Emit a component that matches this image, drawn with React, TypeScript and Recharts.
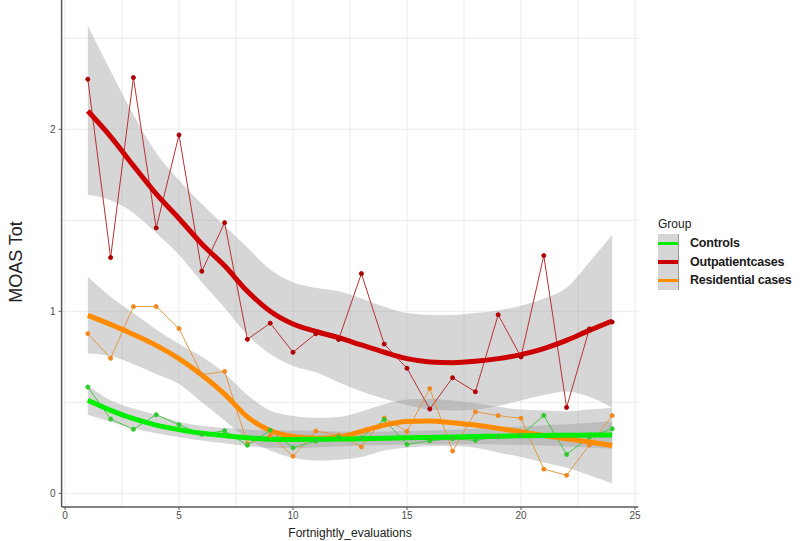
import { ComposedChart, Area, Line, XAxis, YAxis, CartesianGrid } from "recharts";

// fortnightly evaluation index
const evaluations = [1, 2, 3, 4, 5, 6, 7, 8, 9, 10, 11, 12, 13, 14, 15, 16, 17, 18, 19, 20, 21, 22, 23, 24];

// observed MOAS totals per group
const controls = [0.584, 0.408, 0.352, 0.432, 0.377, 0.324, 0.344, 0.264, 0.346, 0.25, 0.287, 0.31, 0.305, 0.405, 0.269, 0.289, 0.3, 0.291, 0.31, 0.32, 0.428, 0.214, 0.309, 0.355];
const outpatient = [2.275, 1.295, 2.284, 1.458, 1.969, 1.22, 1.487, 0.846, 0.935, 0.775, 0.877, 0.845, 1.207, 0.82, 0.687, 0.463, 0.635, 0.558, 0.981, 0.749, 1.306, 0.472, 0.903, 0.941];
const residential = [0.877, 0.742, 1.026, 1.026, 0.905, 0.652, 0.67, 0.273, 0.318, 0.204, 0.342, 0.32, 0.255, 0.414, 0.34, 0.576, 0.232, 0.448, 0.427, 0.412, 0.133, 0.099, 0.265, 0.427];

// smoothed fits
const controlsFit = [0.511, 0.456, 0.41, 0.375, 0.35, 0.33, 0.318, 0.305, 0.297, 0.296, 0.297, 0.298, 0.3, 0.302, 0.305, 0.307, 0.31, 0.312, 0.314, 0.316, 0.318, 0.319, 0.32, 0.32];
const outpatientFit = [2.1, 1.96, 1.8, 1.645, 1.51, 1.37, 1.25, 1.11, 1.0, 0.93, 0.89, 0.855, 0.815, 0.775, 0.74, 0.722, 0.718, 0.725, 0.74, 0.762, 0.795, 0.84, 0.895, 0.947];
const residentialFit = [0.978, 0.928, 0.873, 0.813, 0.74, 0.65, 0.545, 0.42, 0.345, 0.312, 0.302, 0.31, 0.34, 0.375, 0.395, 0.397, 0.388, 0.375, 0.357, 0.338, 0.318, 0.3, 0.282, 0.263];

// confidence bands
const controlsLow = [0.43, 0.393, 0.356, 0.33, 0.31, 0.29, 0.275, 0.26, 0.25, 0.248, 0.252, 0.258, 0.262, 0.265, 0.268, 0.27, 0.27, 0.27, 0.268, 0.265, 0.262, 0.258, 0.252, 0.245];
const controlsHigh = [0.594, 0.511, 0.466, 0.43, 0.393, 0.37, 0.36, 0.35, 0.345, 0.345, 0.343, 0.34, 0.338, 0.34, 0.342, 0.345, 0.35, 0.355, 0.36, 0.367, 0.374, 0.38, 0.388, 0.395];
const outpatientLow = [1.64, 1.61, 1.54, 1.43, 1.31, 1.16, 1.02, 0.87, 0.765, 0.7, 0.665, 0.61, 0.56, 0.52, 0.485, 0.46, 0.455, 0.46, 0.48, 0.51, 0.54, 0.56, 0.53, 0.47];
const outpatientHigh = [2.57, 2.32, 2.08, 1.87, 1.72, 1.59, 1.47, 1.35, 1.23, 1.16, 1.13, 1.11, 1.07, 1.025, 0.99, 0.98, 0.98, 0.99, 1.005, 1.03, 1.07, 1.13, 1.27, 1.42];
const residentialLow = [0.768, 0.755, 0.71, 0.655, 0.6, 0.5, 0.4, 0.3, 0.235, 0.195, 0.18, 0.185, 0.2, 0.235, 0.25, 0.26, 0.26, 0.25, 0.225, 0.2, 0.17, 0.14, 0.1, 0.055];
const residentialHigh = [1.19, 1.08, 0.99, 0.9, 0.82, 0.75, 0.66, 0.54, 0.455, 0.425, 0.415, 0.42, 0.45, 0.49, 0.515, 0.52, 0.51, 0.495, 0.475, 0.46, 0.455, 0.45, 0.46, 0.47];

const xTicks = [0, 5, 10, 15, 20, 25];
const yTicks = [0, 1, 2];

const groups = [
  { name: "Controls", color: "#00ee00" },
  { name: "Outpatientcases", color: "#cc0000" },
  { name: "Residential cases", color: "#ff8c00" },
];

const data = evaluations.map((x, i) => ({
  x,
  controls: controls[i],
  outpatient: outpatient[i],
  residential: residential[i],
  controlsFit: controlsFit[i],
  outpatientFit: outpatientFit[i],
  residentialFit: residentialFit[i],
  controlsBand: [controlsLow[i], controlsHigh[i]],
  outpatientBand: [outpatientLow[i], outpatientHigh[i]],
  residentialBand: [residentialLow[i], residentialHigh[i]],
}));

const font = "'Liberation Sans', Arial, sans-serif";
const axisColor = "#595959";
const tickStyle = { fill: "#4d4d4d", fontSize: 10 };

function Legend() {
  return (
    <div style={{ position: "absolute", left: 658, top: 217, fontFamily: font, color: "#1a1a1a" }}>
      <div style={{ fontSize: 12, marginBottom: 3 }}>Group</div>
      {groups.map((g) => (
        <div key={g.name} style={{ display: "flex", alignItems: "center", height: 18.5 }}>
          <div style={{ width: 20, height: 18.5, background: "#d6d6d6", borderRight: "1px solid #9a9a9a", position: "relative" }}>
            <div style={{ position: "absolute", left: 0, right: 0, top: 7.5, height: 3.5, background: g.color }} />
          </div>
          <span style={{ marginLeft: 11, fontSize: 12.5, fontWeight: "bold", letterSpacing: -0.2 }}>{g.name}</span>
        </div>
      ))}
    </div>
  );
}

export default function App() {
  return (
    <div style={{ position: "absolute", left: 0, top: 0, width: 800, height: 541, background: "#fff" }}>
      <ComposedChart
        width={800}
        height={541}
        data={data}
        margin={{ top: 0, right: 161.6, bottom: 0, left: 0 }}
        style={{ fontFamily: font }}
      >
        <CartesianGrid
          stroke="#ebebeb"
          verticalValues={[0, 2.5, 5, 7.5, 10, 12.5, 15, 17.5, 20, 22.5, 25]}
          horizontalValues={[0, 0.5, 1, 1.5, 2, 2.5]}
        />
        <XAxis
          type="number"
          dataKey="x"
          domain={[-0.15, 25.15]}
          ticks={xTicks}
          allowDataOverflow
          height={34}
          tickSize={3}
          tickMargin={2}
          tick={tickStyle}
          axisLine={{ stroke: axisColor, strokeWidth: 1.5 }}
          tickLine={{ stroke: axisColor }}
          label={{
            content: () => (
              <text x={350} y={533} textAnchor="middle" dominantBaseline="central" fill="#222" fontSize={12}>
                Fortnightly_evaluations
              </text>
            ),
          }}
        />
        <YAxis
          type="number"
          domain={[-0.075, 2.71]}
          ticks={yTicks}
          allowDataOverflow
          width={61.6}
          tickSize={3}
          tickMargin={3}
          tick={tickStyle}
          axisLine={{ stroke: axisColor, strokeWidth: 1.5 }}
          tickLine={{ stroke: axisColor }}
          label={{
            content: () => (
              <text
                x={16}
                y={262}
                transform="rotate(-90, 16, 262)"
                textAnchor="middle"
                dominantBaseline="central"
                fill="#222"
                fontSize={18}
              >
                MOAS Tot
              </text>
            ),
          }}
        />
        <YAxis
          yAxisId="border"
          orientation="right"
          width={0}
          domain={[-0.075, 2.71]}
          tick={false}
          tickLine={false}
          axisLine={{ stroke: axisColor, strokeWidth: 1.5 }}
        />

        <Area type="monotone" dataKey="outpatientBand" fill="#999999" fillOpacity={0.4} stroke="none" isAnimationActive={false} />
        <Area type="monotone" dataKey="residentialBand" fill="#999999" fillOpacity={0.4} stroke="none" isAnimationActive={false} />
        <Area type="monotone" dataKey="controlsBand" fill="#999999" fillOpacity={0.4} stroke="none" isAnimationActive={false} />

        <Line type="linear" dataKey="outpatient" stroke="#b83232" strokeWidth={1} dot={{ r: 2, fill: "#b00000", stroke: "#b00000" }} activeDot={false} isAnimationActive={false} />
        <Line type="linear" dataKey="residential" stroke="#e09a45" strokeWidth={1} dot={{ r: 2, fill: "#f08a20", stroke: "#f08a20" }} activeDot={false} isAnimationActive={false} />
        <Line type="linear" dataKey="controls" stroke="#45c445" strokeWidth={1} dot={{ r: 2, fill: "#2ccc2c", stroke: "#2ccc2c" }} activeDot={false} isAnimationActive={false} />

        <Line type="monotone" dataKey="outpatientFit" stroke="#cc0000" strokeWidth={5} dot={false} activeDot={false} isAnimationActive={false} />
        <Line type="monotone" dataKey="residentialFit" stroke="#ff8c00" strokeWidth={5} dot={false} activeDot={false} isAnimationActive={false} />
        <Line type="monotone" dataKey="controlsFit" stroke="#00ee00" strokeWidth={5} dot={false} activeDot={false} isAnimationActive={false} />
      </ComposedChart>
      <Legend />
    </div>
  );
}
